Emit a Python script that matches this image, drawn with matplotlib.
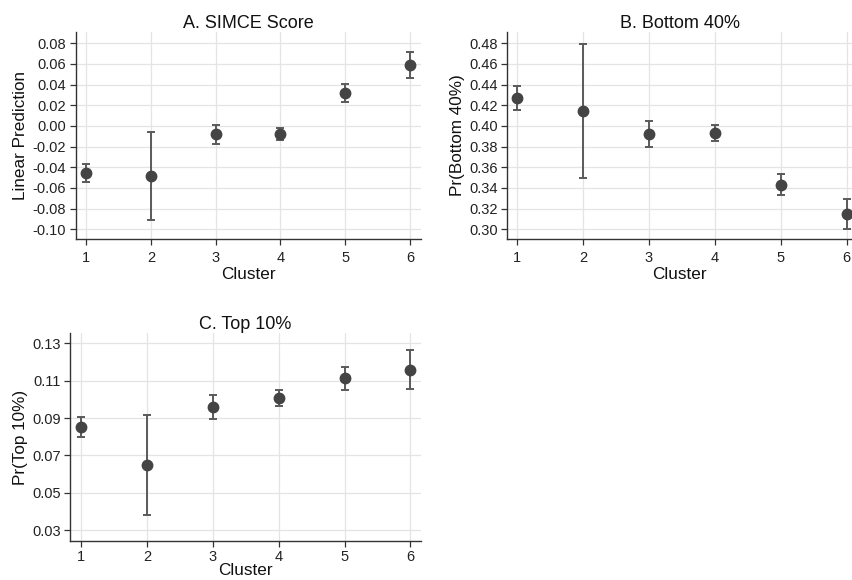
import matplotlib.pyplot as plt

plt.rcParams['font.family'] = ['Liberation Sans', 'DejaVu Sans']

clusters = [1, 2, 3, 4, 5, 6]

# A. SIMCE Score
simce = [-0.0456, -0.0485, -0.0081, -0.0081, 0.0322, 0.0593]
simce_lo = [-0.0546, -0.0914, -0.0175, -0.0139, 0.0235, 0.0464]
simce_hi = [-0.0366, -0.0056, 0.0012, -0.0023, 0.0403, 0.0716]

# B. Bottom 40%
bot = [0.4273, 0.4145, 0.3922, 0.3929, 0.3428, 0.3148]
bot_lo = [0.4157, 0.3499, 0.3800, 0.3854, 0.3329, 0.3002]
bot_hi = [0.4390, 0.4793, 0.4048, 0.4006, 0.3535, 0.3293]

# C. Top 10%
top = [0.0852, 0.0646, 0.0957, 0.1007, 0.1113, 0.1157]
top_lo = [0.0798, 0.0379, 0.0895, 0.0964, 0.1050, 0.1055]
top_hi = [0.0907, 0.0916, 0.1023, 0.1050, 0.1175, 0.1263]

W, H = 852, 580
fig = plt.figure(figsize=(W / 100, H / 100), dpi=100)


def make_ax(left, top_px, right, bottom):
    return fig.add_axes([left / W, 1 - bottom / H, (right - left) / W, (bottom - top_px) / H])


def panel(ax, y, lo, hi, title, ylabel, yticks, ylabels, ylim, xlim, xpad=5, xlabpad=1):
    yerr = [[v - l for v, l in zip(y, lo)], [h - v for v, h in zip(y, hi)]]
    ax.errorbar(clusters, y, yerr=yerr, fmt='o', color='#444444', ecolor='#5a5a5a',
                markersize=7.5, elinewidth=1.4, capsize=2.8, capthick=1.4, zorder=3)
    ax.set_xlim(*xlim)
    ax.set_ylim(*ylim)
    ax.set_xticks(clusters)
    ax.set_yticks(yticks)
    ax.set_yticklabels(ylabels)
    ax.grid(True, color='#e4e4e4', linewidth=0.9)
    ax.set_axisbelow(True)
    for s in ['top', 'right']:
        ax.spines[s].set_visible(False)
    for s in ['left', 'bottom']:
        ax.spines[s].set_color('#333333')
        ax.spines[s].set_linewidth(1.0)
    ax.tick_params(colors='#333333', labelsize=10.5, length=4, width=0.9, labelcolor='#222222', pad=3)
    ax.tick_params(axis='x', pad=xpad)
    ax.set_title(title, fontsize=13, color='#111111', pad=3)
    ax.set_xlabel('Cluster', fontsize=12.3, color='#111111', labelpad=xlabpad)
    ax.set_ylabel(ylabel, fontsize=12.3, color='#111111', labelpad=3)


axA = make_ax(75.7, 32, 421, 239)
panel(axA, simce, simce_lo, simce_hi, 'A. SIMCE Score', 'Linear Prediction',
      [0.08, 0.06, 0.04, 0.02, 0.0, -0.02, -0.04, -0.06, -0.08, -0.10],
      ['0.08', '0.06', '0.04', '0.02', '0.00', '-0.02', '-0.04', '-0.06', '-0.08', '-0.10'],
      (-0.1094, 0.0909), (0.84, 6.17))

axB = make_ax(507.3, 32, 852, 239)
panel(axB, bot, bot_lo, bot_hi, 'B. Bottom 40%', 'Pr(Bottom 40%)',
      [0.48, 0.46, 0.44, 0.42, 0.40, 0.38, 0.36, 0.34, 0.32, 0.30],
      ['0.48', '0.46', '0.44', '0.42', '0.40', '0.38', '0.36', '0.34', '0.32', '0.30'],
      (0.2906, 0.4909), (0.85, 6.08))

axC = make_ax(70.3, 333.3, 421, 540.7)
panel(axC, top, top_lo, top_hi, 'C. Top 10%', 'Pr(Top 10%)',
      [0.13, 0.11, 0.09, 0.07, 0.05, 0.03],
      ['0.13', '0.11', '0.09', '0.07', '0.05', '0.03'],
      (0.0243, 0.1354), (0.837, 6.16), xpad=3, xlabpad=-1)

fig.savefig('out.png', dpi=100, facecolor='white')
